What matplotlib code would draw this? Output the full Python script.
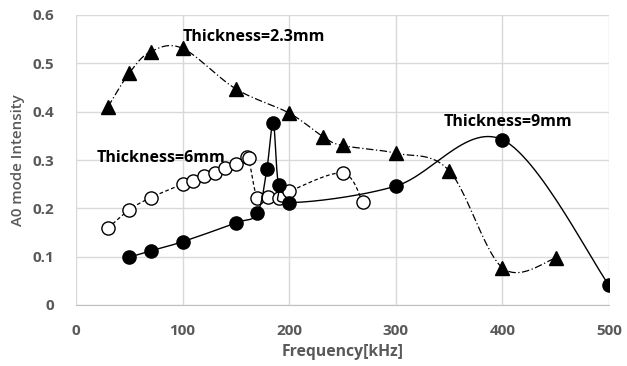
import numpy as np
import matplotlib
matplotlib.use("Agg")
import matplotlib.pyplot as plt

# Thickness = 2.3 mm (triangles)
f_23 = [30, 50, 70, 100, 150, 200, 232, 250, 300, 350, 400, 450]
a_23 = [0.410, 0.480, 0.524, 0.531, 0.447, 0.397, 0.348, 0.330, 0.314, 0.278, 0.077, 0.097]

# Thickness = 6 mm (open circles)
f_6 = [30, 50, 70, 100, 110, 120, 130, 140, 150, 160, 162, 170, 180, 190, 200, 250, 269]
a_6 = [0.159, 0.197, 0.222, 0.250, 0.257, 0.266, 0.274, 0.283, 0.291, 0.307, 0.304,
       0.221, 0.223, 0.222, 0.235, 0.273, 0.213]

# Thickness = 9 mm (filled circles)
f_9 = [50, 70, 100, 150, 170, 179, 185, 190, 200, 300, 400, 500]
a_9 = [0.099, 0.112, 0.131, 0.170, 0.190, 0.281, 0.377, 0.248, 0.212, 0.246, 0.342, 0.041]

xticks = [0, 100, 200, 300, 400, 500]
yticks = [0, 0.1, 0.2, 0.3, 0.4, 0.5, 0.6]
ytick_labels = ["0", "0.1", "0.2", "0.3", "0.4", "0.5", "0.6"]

GRAY = "#595959"
FONT = "Open Sans"


def smooth(x, y, sx=1.066, sy=483.0, n=30):
    """Excel-like smoothed line (Catmull-Rom Bezier) computed in screen-scaled space."""
    P = np.column_stack([np.asarray(x, float) * sx, np.asarray(y, float) * sy])
    out = [P[0]]
    m = len(P)
    for i in range(m - 1):
        p0 = P[i - 1] if i > 0 else P[i]
        p1 = P[i]
        p2 = P[i + 1]
        p3 = P[i + 2] if i + 2 < m else P[i + 1]
        c1 = p1 + (p2 - p0) / 6.0
        c2 = p2 - (p3 - p1) / 6.0
        t = np.linspace(0, 1, n)[1:, None]
        b = ((1 - t) ** 3) * p1 + 3 * ((1 - t) ** 2) * t * c1 + 3 * (1 - t) * t ** 2 * c2 + t ** 3 * p2
        out.extend(b)
    out = np.array(out)
    return out[:, 0] / sx, out[:, 1] / sy


fig = plt.figure(figsize=(6.27, 3.66), dpi=100)
ax = fig.add_axes([76 / 627, 61 / 366, 533 / 627, 290 / 366])

for s in ax.spines.values():
    s.set_visible(False)
ax.spines["bottom"].set_visible(True)
ax.spines["bottom"].set_color("#bfbfbf")
ax.grid(True, color="#d9d9d9", linewidth=1.0)
ax.set_axisbelow(True)

ms = 9.5
# 2.3 mm
sx_, sy_ = smooth(f_23, a_23)
ax.plot(sx_, sy_, color="black", linestyle=(0, (6, 2, 1, 2)), linewidth=0.9, zorder=2)
ax.plot(f_23, a_23, linestyle="none", marker="^", markersize=ms, color="black", zorder=3)

# 6 mm
sx_, sy_ = smooth(f_6, a_6)
ax.plot(sx_, sy_, color="black", linestyle=(0, (3, 2)), linewidth=0.9, zorder=2)
ax.plot(f_6, a_6, linestyle="none", marker="o", markersize=ms, markerfacecolor="white",
        markeredgecolor="black", markeredgewidth=1.0, zorder=3)

# 9 mm
sx_, sy_ = smooth(f_9, a_9)
ax.plot(sx_, sy_, color="black", linestyle="-", linewidth=1.0, zorder=4)
ax.plot(f_9, a_9, linestyle="none", marker="o", markersize=ms, color="black", zorder=5)

ax.set_xlim(0, 500)
ax.set_ylim(0, 0.6)
ax.set_xticks(xticks)
ax.set_yticks(yticks)
ax.set_yticklabels(ytick_labels)
ax.tick_params(length=0, labelsize=11, labelcolor=GRAY)
ax.tick_params(axis="x", pad=14)
ax.tick_params(axis="y", pad=16)
for lab in ax.get_xticklabels() + ax.get_yticklabels():
    lab.set_fontweight("bold")
    lab.set_family(FONT)

ax.set_xlabel("Frequency[kHz]", fontsize=11.3, fontweight="bold", color=GRAY, family=FONT, labelpad=4)
ax.set_ylabel("A0 mode Intensity", fontsize=10.8, fontweight="semibold", color=GRAY, family=FONT, labelpad=5)

ax.text(100, 0.555, "Thickness=2.3mm", fontsize=11.5, fontweight="bold", family=FONT,
        ha="left", va="center", color="black", zorder=6)
ax.text(19, 0.305, "Thickness=6mm", fontsize=11.5, fontweight="bold", family=FONT,
        ha="left", va="center", color="black", zorder=6)
ax.text(345, 0.378, "Thickness=9mm", fontsize=11.5, fontweight="bold", family=FONT,
        ha="left", va="center", color="black", zorder=6)

fig.savefig("out.png", dpi=100)
